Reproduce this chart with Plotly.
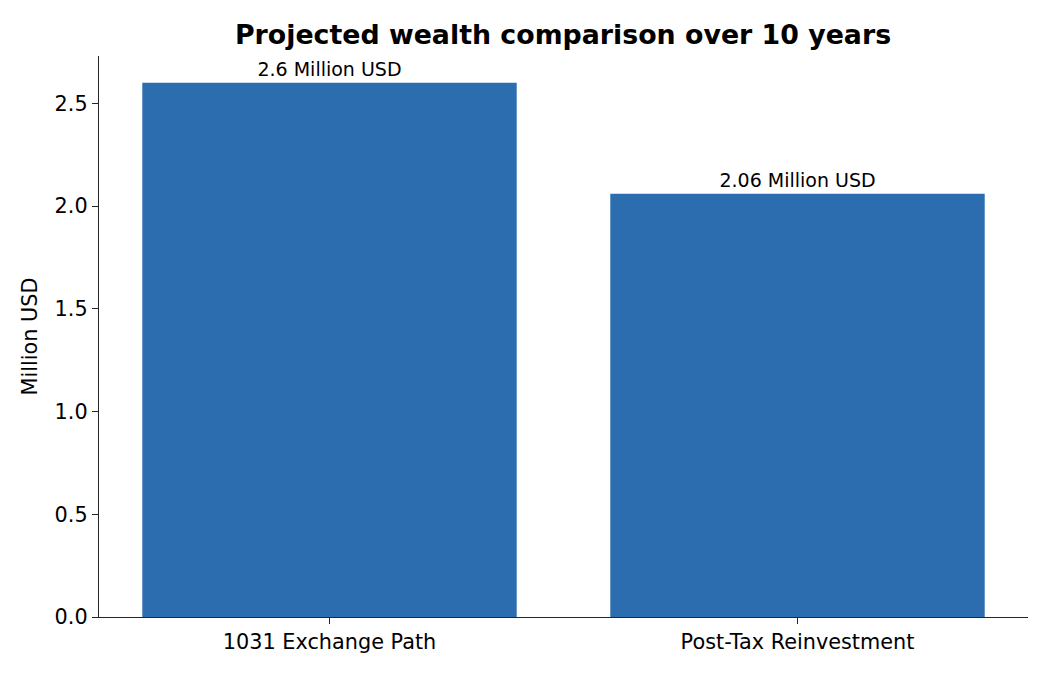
import plotly.graph_objects as go

# data
categories = ["1031 Exchange Path", "Post-Tax Reinvestment"]
wealth_musd = [2.60, 2.06]
bar_labels = ["2.6 Million USD", "2.06 Million USD"]
y_ticks = [0.0, 0.5, 1.0, 1.5, 2.0, 2.5]

FONT = "DejaVu Sans"
AXIS_COLOR = "#262626"

fig = go.Figure()
fig.add_trace(go.Bar(
    x=[0, 1], y=wealth_musd,
    width=0.8,
    marker=dict(color="#2c6db0", line=dict(width=0)),
    text=bar_labels,
    textposition="outside",
    textfont=dict(family=FONT, size=19, color="black"),
    cliponaxis=False,
))

# page body adds an 8px offset, margins compensate for it
fig.update_layout(
    width=1050, height=675,
    margin=dict(l=91, r=30, t=48, b=66),
    paper_bgcolor="white",
    plot_bgcolor="white",
    showlegend=False,
    font=dict(family=FONT, color="black"),
    title=dict(
        text="<b>Projected wealth comparison over 10 years</b>",
        x=0.5286, xanchor="center", y=0.961, yanchor="middle",
        font=dict(family=FONT, size=26.8, color="black"),
    ),
)
fig.update_xaxes(
    range=[-0.4925, 1.4925],
    tickvals=[0, 1], ticktext=categories,
    showline=True, linecolor=AXIS_COLOR, linewidth=1.3,
    ticks="outside", ticklen=6, tickcolor=AXIS_COLOR,
    tickfont=dict(family=FONT, size=20.8, color="black"),
    showgrid=False, zeroline=False,
)
fig.update_yaxes(
    range=[0, 2.73],
    tickvals=y_ticks, ticktext=[f"{v:.1f}" for v in y_ticks],
    showline=True, linecolor=AXIS_COLOR, linewidth=1.3,
    ticks="outside", ticklen=6, tickcolor=AXIS_COLOR,
    tickfont=dict(family=FONT, size=20.8, color="black"),
    title=dict(text="Million USD", font=dict(family=FONT, size=20.8, color="black"), standoff=11),
    showgrid=False, zeroline=False,
)

fig.write_html("out.html")
